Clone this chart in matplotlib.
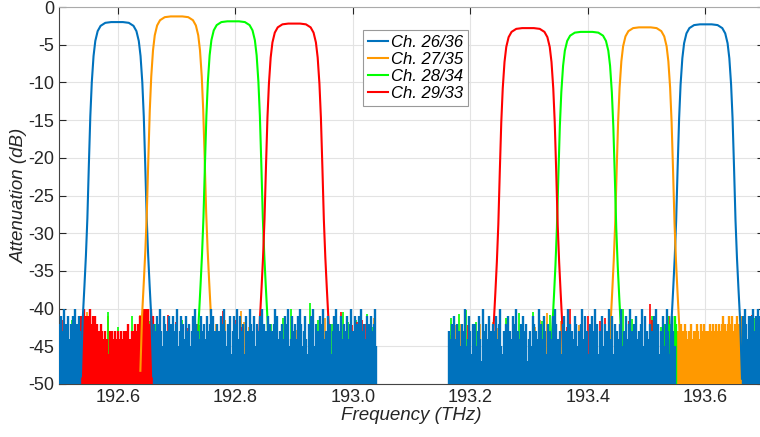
import numpy as np
import matplotlib
matplotlib.use('Agg')
import matplotlib.pyplot as plt

plt.rcParams['font.family'] = ['Liberation Sans', 'DejaVu Sans']
plt.rcParams['axes.unicode_minus'] = False

# channel names and colours
labels = ['Ch. 26/36', 'Ch. 27/35', 'Ch. 28/34', 'Ch. 29/33']
colors = ['#0072BD', '#FF9900', '#00FF00', '#FF0000']

# passband centres (THz) and peak loss (dB), left and right group
centers_left = [192.5988, 192.700, 192.7964, 192.9003]
peaks_left = [-2.0, -1.25, -1.9, -2.2]
centers_right = [193.601, 193.4972, 193.398, 193.2983]
peaks_right = [-2.3, -2.7, -3.3, -2.8]

shape_df = [-0.0615, -0.0585, -0.0555, -0.053, -0.0505, -0.048, -0.0455, -0.043,
            -0.040, -0.037, -0.033, -0.028, -0.020, -0.010, 0.0, 0.010, 0.020,
            0.028, 0.033, 0.037, 0.040, 0.043, 0.0455, 0.048, 0.0505, 0.053,
            0.0555, 0.0585, 0.0615]
shape_db = [-47, -39.5, -35, -31, -26, -19, -12.5, -8, -4.5, -2.5, -1.2, -0.5,
            -0.1, 0, 0, 0, -0.1, -0.5, -1.2, -2.5, -4.5, -8, -12.5, -19, -26,
            -31, -35, -39.5, -47]

# noise floor, one digit per sample: top of sample = -40 - digit (dB)
blue_a = (192.500, 192.536, "2413032514231402413")
blue_b = (192.662, 193.040,
          "2314203512431624132053142413725314023541326413205134273142035241"
          "6314204135261430273152431042531624320514372413205413624130253146"
          "241305273142043514263140235142631420531324103524162413205")
blue_c = (193.164, 193.548,
          "3425142635243054136242531470352416325314205634215341260354213527"
          "4351263405241362534170245362143052634125372041536241305263415273"
          "054162534205361420532714352051634273150426341520364135")
blue_d = (193.664, 193.700, "1302413120314021301")
red_fill = (192.538, 192.660,
            "12012110231212343234354634345343643435342453432323121010102011")
orange_fill = (193.550, 193.662,
               "343425342343524343234253243342332324323213232123132213231")
green_fill = (193.532, 193.550, "2313221412")

# single spikes above the floor: (THz, dB)
orange_spikes = [(192.505, -43), (192.547, -40.4), (192.583, -41), (192.612, -43),
                 (192.638, -40.8), (192.768, -42), (192.776, -41), (192.783, -41.5),
                 (192.79, -42.5), (192.81, -40.3), (192.815, -41.8), (192.823, -42.5),
                 (192.842, -43), (192.87, -42), (192.885, -41.6), (192.905, -42.8),
                 (192.93, -41.8), (192.952, -41.2), (192.975, -42), (192.99, -41.6),
                 (193.006, -43), (193.025, -41.2), (193.036, -41.3), (193.168, -43.5),
                 (193.174, -42.2), (193.185, -42), (193.205, -42.2), (193.216, -42),
                 (193.222, -41.5), (193.238, -41.8), (193.247, -42.6), (193.262, -41.5),
                 (193.278, -42.2), (193.29, -41.8), (193.31, -42.5), (193.318, -41.5),
                 (193.33, -40.6), (193.355, -41.6), (193.365, -42.8), (193.385, -42.2),
                 (193.395, -41.4), (193.41, -43), (193.425, -41.5), (193.44, -40.8),
                 (193.668, -42), (193.69, -41.2)]
green_spikes = [(192.508, -40.8), (192.522, -41.5), (192.56, -42), (192.583, -40.4),
                (192.6, -42.5), (192.624, -41), (192.655, -41.6), (192.665, -42),
                (192.692, -42.5), (192.71, -41.5), (192.728, -41), (192.738, -42.2),
                (192.86, -42), (192.871, -41.5), (192.881, -41.2), (192.895, -40),
                (192.91, -42), (192.927, -39.2), (192.94, -41.5), (192.965, -42),
                (192.983, -40.5), (192.992, -41.8), (193.005, -41.5), (193.024, -40.7),
                (193.033, -42.5), (193.167, -41.2), (193.18, -40.7), (193.193, -40.2),
                (193.21, -41.8), (193.232, -42.5), (193.26, -41.2), (193.283, -40.6),
                (193.307, -40.4), (193.322, -41.6), (193.335, -40.8), (193.46, -40),
                (193.475, -41.4), (193.49, -42.2), (193.51, -41), (193.525, -42.5),
                (193.675, -42), (193.685, -41.2), (193.695, -41.5)]
red_spikes = [(192.505, -41.5), (192.515, -41.6), (192.528, -42), (192.672, -41.5),
              (192.685, -40.8), (192.7, -41.8), (192.718, -42.6), (192.736, -42),
              (192.752, -41.4), (192.779, -40.3), (192.8, -41.5), (192.812, -42.4),
              (192.825, -42.8), (192.98, -40.5), (192.998, -42.2), (193.008, -41.8),
              (193.015, -41.5), (193.02, -42), (193.03, -42.8), (193.038, -42),
              (193.17, -43), (193.196, -42.2), (193.205, -42.2), (193.365, -42.4),
              (193.37, -40), (193.4, -41), (193.42, -41.6), (193.429, -41.2),
              (193.44, -42.5), (193.47, -41.6), (193.506, -39.4), (193.51, -41.5),
              (193.538, -41), (193.555, -43), (193.6, -43.5), (193.64, -43.2),
              (193.668, -41), (193.68, -40.8), (193.695, -41.6)]

fig = plt.figure(figsize=(7.6, 4.37), dpi=100)
ax = fig.add_axes([59 / 760, 53 / 437, 705 / 760, 377 / 437])


def floor(seg, color, z):
    f0, f1, digits = seg
    f = np.linspace(f0, f1, len(digits))
    top = [-40 - int(c) for c in digits]
    ax.vlines(f, -50, top, color=color, lw=1.7, zorder=z)


def spikes(lst, color, z):
    f = [p[0] for p in lst]
    top = [p[1] for p in lst]
    ax.vlines(f, -50, top, color=color, lw=1.2, zorder=z)


spikes(orange_spikes, colors[1], 2)
spikes(green_spikes, colors[2], 2)
spikes(red_spikes, colors[3], 2)
floor(red_fill, colors[3], 3)
floor(orange_fill, colors[1], 3)
floor(green_fill, colors[2], 3)
for seg in (blue_a, blue_b, blue_c, blue_d):
    floor(seg, colors[0], 5)

# passband edges run into the noise floor, so they sit under the blue floor
for i in range(4):
    for c, p in ((centers_left[i], peaks_left[i]), (centers_right[i], peaks_right[i])):
        fx = [c + d for d in shape_df]
        fy = [p + d for d in shape_db]
        line, = ax.plot(fx, fy, color=colors[i], lw=1.5, zorder=4)
    line.set_label(labels[i])

ax.set_xlim(192.5, 193.7)
ax.set_ylim(-50, 0)
ax.set_xticks([192.6, 192.8, 193.0, 193.2, 193.4, 193.6])
ax.set_xticklabels(['192.6', '192.8', '193.0', '193.2', '193.4', '193.6'])
ax.set_yticks(np.arange(-50, 1, 5))
ax.grid(True, color='#e3e3e3', lw=0.8, zorder=0)
ax.tick_params(direction='in', top=True, right=True, labelsize=13,
               colors='#262626', length=5, width=0.8)
for s in ax.spines.values():
    s.set_color('#444444')
    s.set_linewidth(0.8)
ax.spines['top'].set_color('#aaaaaa')
ax.set_xlabel('Frequency (THz)', fontsize=13.5, style='italic', color='#262626', labelpad=1)
ax.set_ylabel('Attenuation (dB)', fontsize=13.5, style='italic', color='#262626', labelpad=0)

leg = ax.legend(loc='upper left', bbox_to_anchor=(0.431, 0.939), borderaxespad=0,
                prop={'style': 'italic', 'size': 12},
                handlelength=1.2, handletextpad=0.2, labelspacing=0.12,
                borderpad=0.3, fancybox=False, framealpha=1)
leg.get_frame().set_edgecolor('#999999')
leg.get_frame().set_linewidth(0.8)

fig.savefig('out.png', dpi=100, facecolor='white')
